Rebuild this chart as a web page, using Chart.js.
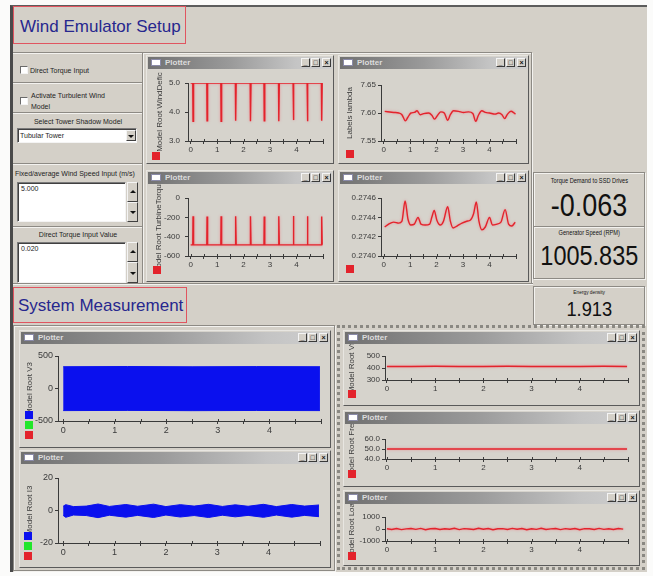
<!DOCTYPE html>
<html>
<head>
<meta charset="utf-8">
<title>Wind Emulator</title>
<script src="https://cdn.jsdelivr.net/npm/chart.js@4.4.1/dist/chart.umd.min.js"></script>
<style>
  html, body { margin: 0; padding: 0; width: 653px; height: 576px; overflow: hidden; background: #fbfbfa;
    font-family: "Liberation Sans", Arial, sans-serif; color: #222; }
  .a { position: absolute; }
  #app { left: 10px; top: 5px; width: 637px; height: 567px; background: #d4d0c8;
    border-top: 2px solid #5c5c5c; border-left: 3px solid #4a4a4a; box-sizing: border-box; }
  .hl { height: 0; border-top: 1px solid #8d8a84; border-bottom: 1px solid #f3f2ef; }
  .vl { width: 0; border-left: 1px solid #8d8a84; border-right: 1px solid #f3f2ef; }
  .groove { border: 1px solid #8d8a84; box-shadow: inset 1px 1px 0 #f3f2ef, 1px 1px 0 #f3f2ef; box-sizing: border-box; }
  .head { border: 1.5px solid #e05560; box-sizing: border-box; color: #27278e; font-size: 17px; line-height: 1; background: #d4d0c8; }
  .t7 { font-size: 7px; line-height: 9px; white-space: nowrap; color: #1e1e1e; }
  .chk { width: 8px; height: 8px; background: #fff; box-sizing: border-box;
    border: 1px solid; border-color: #6a6a6a #f4f4f4 #f4f4f4 #6a6a6a; }
  .box { background: #fff; box-sizing: border-box; border: 1px solid; border-color: #7a7a7a #f4f4f4 #f4f4f4 #7a7a7a;
    box-shadow: inset 1px 1px 0 #404040; font-size: 7px; padding: 2px 3px; color: #1e1e1e; }
  .btn { background: #d4d0c8; box-sizing: border-box; border: 1px solid; border-color: #f4f4f4 #404040 #404040 #f4f4f4; }
  .tri { position: absolute; left: 50%; top: 50%; width: 0; height: 0; margin-left: -3px;
    border-left: 3px solid transparent; border-right: 3px solid transparent; }
  .up { border-bottom: 3px solid #111; margin-top: -2px; }
  .dn { border-top: 3px solid #111; margin-top: -1px; }
  .ro { text-align: center; white-space: nowrap; color: #111; }
  .ro span { display: inline-block; transform: scaleX(0.87); transform-origin: 50% 50%; }
  .win { background: #d6d3cc; box-sizing: border-box; border: 1px solid; border-color: #e8e6e1 #5a5a5a #5a5a5a #e8e6e1; }
  .tb { position: absolute; left: 1px; right: 1px; top: 1px; height: 12px;
    background: linear-gradient(to right, #717171 0%, #9a9a9a 45%, #c4c4c4 80%, #cfcfcf 100%); }
  .tb .ico { position: absolute; left: 3px; top: 2px; width: 10px; height: 7px; background: #fff; border: 1px solid #8a8aa8; box-sizing: border-box; }
  .tb .tt { position: absolute; left: 17px; top: 1px; font-size: 8px; font-weight: bold; color: #dcdcdc; line-height: 10px; }
  .tb .bt { position: absolute; top: 1px; width: 9px; height: 9px; background: #d4d0c8; box-sizing: border-box;
    border: 1px solid; border-color: #f4f4f4 #3a3a3a #3a3a3a #f4f4f4; font-size: 7px; line-height: 7px; text-align: center; color: #111; font-weight: bold; }
  .win canvas { position: absolute; left: 0; top: 13px; }
  .dotted { border: 3px dotted #8a8882; box-sizing: border-box; }
</style>
</head>
<body>
<div id="app" class="a"></div>

<!-- upper section frame -->
<div class="a head" style="left:13px;top:6px;width:173px;height:38px;padding:11px 0 0 6px;">Wind Emulator Setup</div>
<div class="a hl" style="left:13px;top:52px;width:519px;"></div>
<div class="a vl" style="left:142px;top:53px;height:230px;"></div>
<div class="a vl" style="left:531px;top:53px;height:230px;"></div>
<div class="a hl" style="left:13px;top:283px;width:520px;"></div>

<!-- left control column -->
<div class="a chk" style="left:20px;top:66px;"></div>
<div class="a t7" style="left:30px;top:66px;">Direct Torque Input</div>
<div class="a hl" style="left:13px;top:82px;width:129px;"></div>
<div class="a chk" style="left:20px;top:97px;"></div>
<div class="a t7" style="left:31px;top:90px;line-height:11px;">Activate Turbulent Wind<br>Model</div>
<div class="a hl" style="left:13px;top:112px;width:129px;"></div>
<div class="a t7" style="left:13px;top:117px;width:130px;text-align:center;">Select Tower Shadow Model</div>
<div class="a box" style="left:17px;top:128px;width:120px;height:15px;padding:3px 2px;">Tubular Tower</div>
<div class="a btn" style="left:126px;top:130px;width:10px;height:11px;"><div class="tri dn"></div></div>
<div class="a hl" style="left:13px;top:163px;width:129px;"></div>
<div class="a t7" style="left:15px;top:169px;">Fixed/average Wind Speed Input (m/s)</div>
<div class="a box" style="left:17px;top:182px;width:109px;height:40px;">5.000</div>
<div class="a btn" style="left:127px;top:182px;width:11px;height:20px;"><div class="tri up"></div></div>
<div class="a btn" style="left:127px;top:202px;width:11px;height:20px;"><div class="tri dn"></div></div>
<div class="a hl" style="left:13px;top:226px;width:129px;"></div>
<div class="a t7" style="left:13px;top:230px;width:130px;text-align:center;">Direct Torque Input Value</div>
<div class="a box" style="left:17px;top:242px;width:109px;height:41px;">0.020</div>
<div class="a btn" style="left:127px;top:242px;width:11px;height:20px;"><div class="tri up"></div></div>
<div class="a btn" style="left:127px;top:262px;width:11px;height:21px;"><div class="tri dn"></div></div>

<!-- numeric readouts -->
<div class="a groove" style="left:533px;top:172px;width:112px;height:107px;"></div>
<div class="a hl" style="left:534px;top:226px;width:110px;"></div>
<div class="a ro" style="left:533px;top:177px;width:112px;font-size:6.5px;"><span>Torque Demand to SSD Drives</span></div>
<div class="a ro" style="left:533px;top:189px;width:112px;font-size:31px;line-height:34px;"><span>-0.063</span></div>
<div class="a ro" style="left:533px;top:229px;width:112px;font-size:6.5px;"><span>Generator Speed (RPM)</span></div>
<div class="a ro" style="left:533px;top:241px;width:112px;font-size:27px;line-height:31px;"><span>1005.835</span></div>
<div class="a groove" style="left:533px;top:286px;width:112px;height:39px;"></div>
<div class="a ro" style="left:533px;top:289px;width:112px;font-size:5.5px;"><span>Energy density</span></div>
<div class="a ro" style="left:533px;top:297px;width:112px;font-size:21px;line-height:24px;"><span>1.913</span></div>

<!-- lower section frame -->
<div class="a head" style="left:13px;top:287px;width:174px;height:36px;padding:9px 0 0 4px;">System Measurement</div>
<div class="a groove" style="left:13px;top:325px;width:322px;height:246px;"></div>
<div class="a dotted" style="left:337px;top:325px;width:308px;height:245px;"></div>

<script>
// time stamps shared by the wind-deficit and turbine-torque traces
const stepT   = [0, 0.08, 0.09, 0.11, 0.61, 0.62, 0.64, 1.14, 1.15, 1.17, 1.69, 1.70, 1.72, 2.25, 2.26, 2.28,
                 2.77, 2.78, 2.80, 3.32, 3.33, 3.35, 3.87, 3.88, 3.90, 4.40, 4.41, 4.43, 4.94, 4.95, 4.97];
const windDef = [5.0, 5.0, 3.68, 5.0, 5.0, 3.70, 5.0, 5.0, 3.68, 5.0, 5.0, 3.70, 5.0, 5.0, 3.68, 5.0,
                 5.0, 3.70, 5.0, 5.0, 3.68, 5.0, 5.0, 3.72, 5.0, 5.0, 3.68, 5.0, 5.0, 3.70, 5.0];
const torque  = [-485, -485, -190, -485, -485, -192, -485, -485, -190, -485, -485, -188, -485, -485, -190, -485,
                 -485, -192, -485, -485, -190, -485, -485, -186, -485, -485, -190, -485, -485, -192, -485];

// tip speed ratio
const lambdaT = [0.04, 0.38, 0.57, 0.69, 0.82, 0.91, 1.03, 1.16, 1.26, 1.38, 1.51, 1.70, 1.82, 1.92, 2.04, 2.16,
                 2.29, 2.42, 2.52, 2.64, 2.83, 3.02, 3.21, 3.37, 3.48, 3.58, 3.71, 3.84, 4.00, 4.21, 4.34, 4.47,
                 4.57, 4.68, 4.81, 4.93, 4.98];
const lambdaV = [7.603, 7.601, 7.600, 7.597, 7.586, 7.592, 7.600, 7.601, 7.604, 7.597, 7.599, 7.600, 7.596, 7.589, 7.596, 7.602,
                 7.600, 7.587, 7.597, 7.604, 7.603, 7.601, 7.602, 7.599, 7.585, 7.596, 7.604, 7.601, 7.600, 7.598, 7.600, 7.597,
                 7.590, 7.598, 7.603, 7.600, 7.598];

// rotor speed (p.u.)
const speedT = [0.04, 0.19, 0.38, 0.57, 0.69, 0.81, 0.92, 1.03, 1.16, 1.30, 1.41, 1.57, 1.74, 1.82, 1.91, 2.01,
                2.14, 2.26, 2.42, 2.52, 2.62, 2.77, 2.96, 3.14, 3.27, 3.40, 3.50, 3.60, 3.71, 3.84, 4.00, 4.11,
                4.28, 4.43, 4.59, 4.72, 4.84, 4.97];
const speedV = [0.27430, 0.27433, 0.27435, 0.27434, 0.27436, 0.27457, 0.27438, 0.27432, 0.27433, 0.27440, 0.27433, 0.27432,
                0.27433, 0.27440, 0.27447, 0.27437, 0.27432, 0.27436, 0.27451, 0.27436, 0.27429, 0.27431, 0.27434, 0.27436,
                0.27437, 0.27444, 0.27456, 0.27436, 0.27427, 0.27430, 0.27440, 0.27432, 0.27433, 0.27435, 0.27448, 0.27433,
                0.27431, 0.27435];

// phase voltage V3: envelope of the 50 Hz waveform
const v3T  = [0, 1.25, 2.5, 3.75, 4.98];
const v3Hi = [335, 338, 334, 337, 335];
const v3Lo = [-340, -337, -341, -338, -340];

// phase current I3: envelope
const i3T  = [0, 0.05, 0.2, 0.45, 0.68, 0.9, 1.22, 1.45, 1.76, 2.0, 2.28, 2.55, 2.83, 3.1, 3.35, 3.6, 3.90, 4.15, 4.45, 4.7, 4.98];
const i3Hi = [2.6, 3.6, 2.4, 2.7, 4.0, 2.5, 3.7, 2.6, 3.9, 2.4, 3.6, 2.7, 3.8, 2.5, 3.5, 2.6, 3.8, 2.4, 3.7, 2.7, 3.4];
const i3Lo = [-3.0, -4.2, -2.8, -3.1, -4.4, -2.9, -4.1, -3.0, -4.3, -2.8, -4.0, -3.1, -4.3, -2.9, -3.9, -3.0, -4.2, -2.8, -4.1, -3.0, -3.8];

// field voltage, frequency, load
const vfT   = [0, 0.5, 1.0, 1.5, 2.0, 2.5, 3.0, 3.5, 4.0, 4.5, 4.98];
const vfV   = [413, 412, 414, 412, 413, 414, 412, 413, 412, 414, 413];
const freqT = [0, 4.98];
const freqV = [50.0, 50.0];
const loadT = [0, 0.1, 0.2, 0.3, 0.4, 0.5, 0.6, 0.7, 0.8, 0.9, 1.0, 1.1, 1.2, 1.3, 1.4, 1.5, 1.6, 1.7, 1.8, 1.9,
               2.0, 2.1, 2.2, 2.3, 2.4, 2.5, 2.6, 2.7, 2.8, 2.9, 3.0, 3.1, 3.2, 3.3, 3.4, 3.5, 3.6, 3.7, 3.8, 3.9,
               4.0, 4.1, 4.2, 4.3, 4.4, 4.5, 4.6, 4.7, 4.8, 4.9];
const loadV = [20, -40, 35, -55, 10, 45, -30, 50, -60, 15, 40, -45, 25, -20, 55, -50, 30, 5, -35, 60,
               -25, 40, -55, 20, 35, -40, 50, -15, 45, -60, 25, -30, 55, -45, 10, 40, -50, 30, -20, 45,
               -55, 35, 15, -40, 50, -30, 20, -45, 40, -10];

const FONT = '"Liberation Sans", Arial, sans-serif';
const INK = '#3a3a3a';
const RED = '#e3232c';
const BLUE = '#0a10ee';
const GREEN = '#22e62a';

const pairs = (t, v) => t.map((x, i) => ({ x, y: v[i] }));

// window chrome with a canvas underneath the title bar
function addWindow(id, left, top, w, h) {
  const win = document.createElement('div');
  win.className = 'a win';
  Object.assign(win.style, { left: left + 'px', top: top + 'px', width: w + 'px', height: h + 'px' });
  win.innerHTML = '<div class="tb"><span class="ico"></span><span class="tt">Plotter</span>' +
    `<span class="bt" style="right:22px">_</span><span class="bt" style="right:12px">&#9633;</span>` +
    `<span class="bt" style="right:1px">&times;</span></div>`;
  const cv = document.createElement('canvas');
  cv.id = id;
  cv.width = w - 2; cv.height = h - 15;
  win.appendChild(cv);
  document.body.appendChild(win);
  return cv;
}

// y-axis caption, colour swatches, inner half of the x ticks, soft glow on red traces
const decor = {
  id: 'decor',
  beforeDatasetsDraw(chart, args, o) {
    if (o.glow) {
      chart.ctx.save();
      chart.ctx.shadowColor = 'rgba(238,120,128,0.85)';
      chart.ctx.shadowBlur = 2.5;
    }
  },
  afterDatasetsDraw(chart, args, o) {
    if (o.glow) chart.ctx.restore();
  },
  afterDraw(chart, args, o) {
    const { ctx, chartArea, scales } = chart;
    const xs = scales.x;
    ctx.save();
    ctx.strokeStyle = INK; ctx.lineWidth = 1;
    xs.ticks.forEach(t => {
      const px = Math.round(xs.getPixelForValue(t.value)) + 0.5;
      ctx.beginPath(); ctx.moveTo(px, chartArea.bottom); ctx.lineTo(px, chartArea.bottom - 2); ctx.stroke();
    });
    if (o.title) {
      ctx.translate(o.titleX, (chartArea.top + chartArea.bottom) / 2);
      ctx.rotate(-Math.PI / 2);
      ctx.font = '8px ' + FONT; ctx.fillStyle = INK;
      ctx.textAlign = 'center'; ctx.textBaseline = 'middle';
      ctx.fillText(o.title, 0, 0);
    }
    ctx.restore();
    const n = o.swatches.length;
    o.swatches.forEach((c, i) => {
      const y = chart.height - o.swBottom - 8 - (n - 1 - i) * 10;
      ctx.fillStyle = c;
      ctx.fillRect(o.swX, y, 8, 8);
    });
  }
};

function plotter(cv, o) {
  const fs = o.fs || 8;
  return new Chart(cv, {
    type: 'line',
    data: { datasets: o.datasets },
    options: {
      responsive: false, animation: false, events: [],
      layout: { padding: { top: o.top, right: o.right, left: 0, bottom: 0 } },
      elements: { point: { radius: 0 }, line: { tension: 0 } },
      plugins: {
        legend: { display: false }, tooltip: { enabled: false },
        decor: { title: o.title, titleX: o.titleX, swatches: o.swatches || [RED], swX: o.swX, swBottom: o.swBottom,
                 glow: !o.swatches }
      },
      scales: {
        x: {
          type: 'linear', min: o.xMin, max: 5,
          afterFit: s => { s.height = o.xH; },
          ticks: { stepSize: 0.5, includeBounds: false, autoSkip: false, maxRotation: 0, padding: 1,
                   color: INK, font: { family: FONT, size: fs },
                   callback: v => (Number.isInteger(v) && v < 5) ? String(v) : '' },
          grid: { drawOnChartArea: false, tickLength: 3, color: INK },
          border: { color: INK }
        },
        y: {
          min: o.yMin, max: o.yMax,
          afterFit: s => { s.width = o.yW; },
          ticks: { stepSize: o.yStep, includeBounds: false, autoSkip: false, padding: o.yPad || 2,
                   color: INK, font: { family: FONT, size: fs },
                   callback: v => v.toFixed(o.dec) },
          grid: { drawOnChartArea: false, tickLength: 3, color: INK },
          border: { color: INK }
        }
      }
    },
    plugins: [decor]
  });
}

const redLine = (t, v, smooth) => ({ data: pairs(t, v), borderColor: RED, borderWidth: 1.4, fill: false,
                                     cubicInterpolationMode: smooth ? 'monotone' : 'default' });
const band = (t, hi, lo) => [
  { data: pairs(t, hi), borderColor: BLUE, borderWidth: 1, fill: false },
  { data: pairs(t, lo), borderColor: BLUE, borderWidth: 1, backgroundColor: BLUE, fill: '-1' }
];

plotter(addWindow('windDefic', 146, 55, 188, 109), {
  datasets: [redLine(stepT, windDef)], xMin: -0.1, yMin: 3, yMax: 5, yStep: 1, dec: 1,
  yW: 41, xH: 22, top: 14, right: 10, yPad: 5, title: 'Model Root WindDefic', titleX: 13, swX: 5, swBottom: 3
});
plotter(addWindow('lambda', 338, 55, 191, 109), {
  datasets: [redLine(lambdaT, lambdaV, true)], xMin: -0.1, yMin: 7.55, yMax: 7.65, yStep: 0.05, dec: 2,
  yW: 42, xH: 22, top: 16, right: 12, yPad: 2, title: 'Labels lambda', titleX: 11, swX: 7, swBottom: 5
});
plotter(addWindow('torque', 146, 170, 188, 112), {
  datasets: [redLine(stepT, torque)], xMin: -0.1, yMin: -600, yMax: 0, yStep: 200, dec: 0,
  yW: 41, xH: 25, top: 14, right: 10, yPad: 5, title: 'Model Root TurbineTorque', titleX: 12, swX: 6, swBottom: 7
});
plotter(addWindow('speed', 338, 170, 191, 112), {
  datasets: [redLine(speedT, speedV, true)], xMin: -0.1, yMin: 0.274, yMax: 0.2746, yStep: 0.0002, dec: 4,
  yW: 42, xH: 25, top: 14, right: 12, yPad: 2, title: '', titleX: 10, swX: 7, swBottom: 8
});
plotter(addWindow('v3', 19, 330, 312, 118), {
  datasets: band(v3T, v3Hi, v3Lo), xMin: -0.1, yMin: -500, yMax: 500, yStep: 500, dec: 0, fs: 9,
  yW: 38, xH: 26, top: 12, right: 9, title: 'Model Root V3', titleX: 10, swX: 5, swBottom: 8,
  swatches: [BLUE, GREEN, RED]
});
plotter(addWindow('i3', 19, 450, 312, 118), {
  datasets: band(i3T, i3Hi, i3Lo), xMin: -0.1, yMin: -20, yMax: 20, yStep: 20, dec: 0, fs: 9,
  yW: 38, xH: 24, top: 14, right: 10, title: 'Model Root I3', titleX: 10, swX: 4, swBottom: 7,
  swatches: [BLUE, GREEN, RED]
});
plotter(addWindow('vf', 343, 330, 297, 76), {
  datasets: [redLine(vfT, vfV)], xMin: -0.04, yMin: 300, yMax: 500, yStep: 100, dec: 0,
  yW: 41, xH: 25, top: 12, right: 11, title: 'Model Root Vf', titleX: 8, swX: 4, swBottom: 7
});
plotter(addWindow('freq', 343, 410, 297, 77), {
  datasets: [redLine(freqT, freqV)], xMin: -0.04, yMin: 40, yMax: 60, yStep: 10, dec: 1,
  yW: 41, xH: 27, top: 15, right: 11, title: 'Model Root Freq', titleX: 8, swX: 4, swBottom: 8
});
plotter(addWindow('load', 343, 490, 297, 76), {
  datasets: [redLine(loadT, loadV)], xMin: -0.04, yMin: -1000, yMax: 1000, yStep: 1000, dec: 0,
  yW: 41, xH: 24, top: 13, right: 11, title: 'Model Root Load', titleX: 8, swX: 4, swBottom: 5
});
</script>
</body>
</html>
